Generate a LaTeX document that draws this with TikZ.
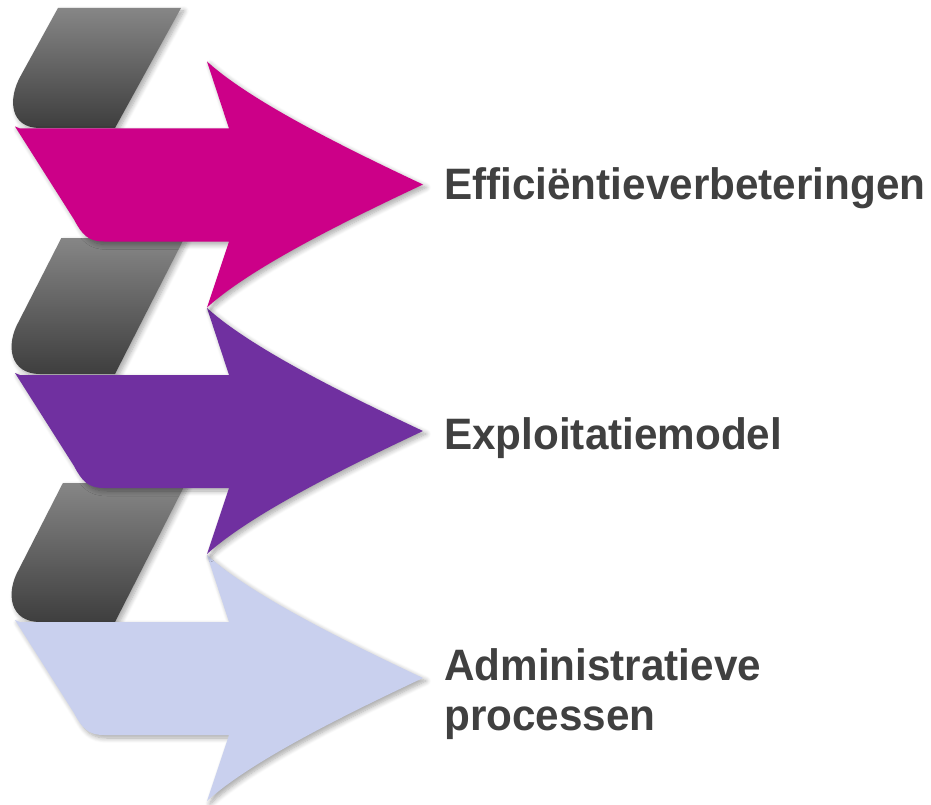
\documentclass[tikz,border=0pt]{standalone}
\usepackage{fontspec}
\setmainfont{Liberation Sans}[FakeStretch=0.96]
\usetikzlibrary{shadows.blur}
\definecolor{pinkA}{HTML}{CC0088}
\definecolor{purpleA}{HTML}{7030A0}
\definecolor{lightA}{HTML}{C9D0EE}
\definecolor{bandtop}{HTML}{868686}
\definecolor{bandbot}{HTML}{3E3E3E}
\definecolor{textgray}{HTML}{404040}
\begin{document}
\begin{tikzpicture}[x=1pt,y=-1pt,
  shad/.style={blur shadow={shadow xshift=3pt,shadow yshift=-3pt,shadow blur steps=8,shadow blur radius=5pt,shadow opacity=35}},
  band/.style={top color=bandtop,bottom color=bandbot,draw=none,shad},
  ribbon/.style={fill=#1,draw=none,shad},
  lbl/.style={font=\bfseries\fontsize{44}{50}\selectfont,text=textgray,inner sep=0pt,anchor=base west,align=left}]
\useasboundingbox (0,0) rectangle (931,805);
% gray back bands
\foreach \S/\T/\k in {8/128/0.55, 238/374/0.51, 483/622/0.51}{
  \pgfmathsetmacro\xrt{115+\k*(\T-\S)}
  \pgfmathsetmacro\xlt{\xrt-123}
  \pgfmathsetmacro\xp{\xlt-\k*(\T-53-\S)}
  \path[band] (\xrt,\S) -- (\xlt,\S) -- (\xp,\T-53)
    .. controls (\xp-14,\T-28.5) and (10,\T) .. (40,\T) -- (115,\T) -- cycle;
}
% arrows
\foreach \c/\col in {678/lightA, 431/purpleA, 184.5/pinkA}{
  \path[ribbon=\col] (15,\c-58) -- (74,\c+35)
    .. controls (82,\c+50) and (88,\c+57) .. (104,\c+57)
    -- (229,\c+57) -- (207,\c+123)
    .. controls (250,\c+84) and (340,\c+39) .. (423,\c)
    .. controls (340,\c-39) and (250,\c-84) .. (207,\c-123)
    -- (229,\c-56) -- (20,\c-56) -- cycle;
}
\node[lbl] (t1) at (444,200) {Efficiëntieverbeteringen};
\node[lbl] (t2) at (444,449) {Exploitatiemodel};
\node[lbl,anchor=north west] (t3) at (444,648) {Administratieve\\processen};
\end{tikzpicture}
\end{document}
